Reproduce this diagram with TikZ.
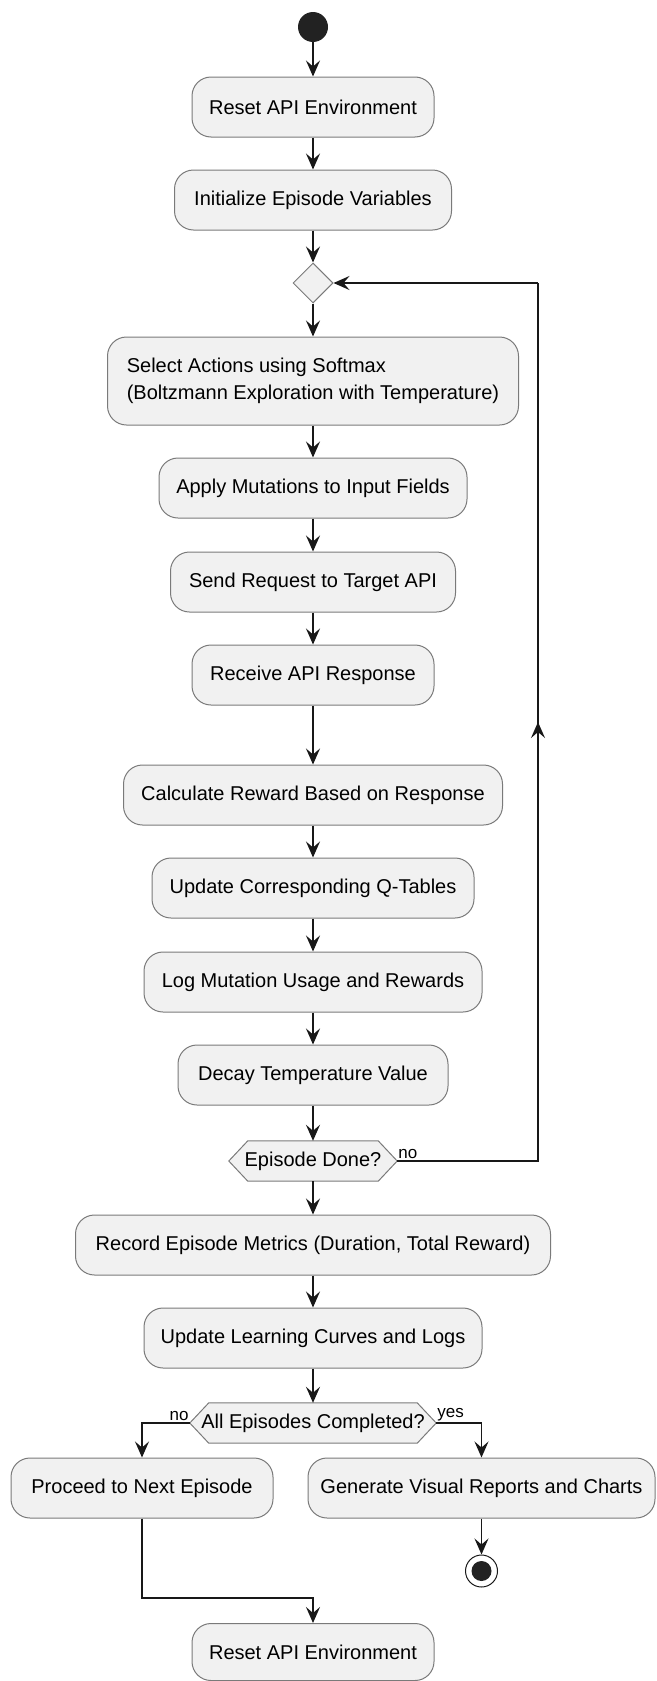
\documentclass[tikz,border=0pt]{standalone}
\usepackage{fontspec}
\setmainfont{Liberation Sans}
\usetikzlibrary{arrows.meta,calc,backgrounds,shapes.geometric}
\definecolor{boxfill}{HTML}{F1F1F1}
\definecolor{boxline}{HTML}{7A7A7A}
\definecolor{arrowc}{HTML}{181818}
\definecolor{startc}{HTML}{222222}
\begin{document}
\begin{tikzpicture}[x=1pt,y=-1pt,
  act/.style={draw=boxline, fill=boxfill, line width=1pt, rounded corners=19pt,
    minimum height=60pt, inner sep=0pt, font=\fontsize{20}{27}\selectfont, align=center},
  hexn/.style={inner sep=0pt, minimum height=40pt, font=\fontsize{20}{24}\selectfont},
  hexpath/.style={draw=boxline, fill=boxfill, line width=1pt},
  line/.style={draw=arrowc, line width=1.5pt},
  arr/.style={line, -{Stealth[length=16pt,width=14pt,inset=6pt]}},
  lbl/.style={font=\fontsize{17}{20}\selectfont, inner sep=1pt}]
\useasboundingbox (0,0) rectangle (656,1681);

% start
\node[circle, fill=startc, minimum size=30pt, inner sep=0pt] (start) at (313,27) {};

\node[act, minimum width=242pt] (reset1) at (313,107) {Reset API Environment};
\node[act, minimum width=277pt] (init) at (313,200) {Initialize Episode Variables};
\node[diamond, aspect=1, draw=boxline, fill=boxfill, line width=1pt, minimum size=40pt, inner sep=0pt] (dia) at (313,283) {};
\node[act, minimum width=411pt, minimum height=88pt, align=left] (select) at (313,381) {Select Actions using Softmax\\(Boltzmann Exploration with Temperature)};
\node[act, minimum width=308pt] (apply) at (313,488) {Apply Mutations to Input Fields};
\node[act, minimum width=285pt] (send) at (313,582) {Send Request to Target API};
\node[act, minimum width=242pt] (receive) at (313,675) {Receive API Response};
\node[act, minimum width=379pt] (calc) at (313,795) {Calculate Reward Based on Response};
\node[act, minimum width=322pt] (updq) at (313,888) {Update Corresponding Q-Tables};
\node[act, minimum width=338pt] (logm) at (313,982) {Log Mutation Usage and Rewards};
\node[act, minimum width=270pt] (decay) at (313,1075) {Decay Temperature Value};
\node[hexn, minimum width=168pt] (epdone) at (313,1161) {Episode Done?};
\node[act, minimum width=475pt] (record) at (313,1245) {Record Episode Metrics (Duration, Total Reward)};
\node[act, minimum width=338pt] (updlc) at (313,1338) {Update Learning Curves and Logs};
\node[hexn, minimum width=246pt] (alep) at (313,1423) {All Episodes Completed?};
\node[act, minimum width=262pt] (proceed) at (142,1488) {Proceed to Next Episode};
\node[act, minimum width=347pt] (gen) at (481.5,1488) {Generate Visual Reports and Charts};
\node[circle, draw=arrowc, line width=1pt, fill=white, minimum size=32pt, inner sep=0pt] (end) at (481.5,1571) {};
\fill[startc] (end.center) circle (10pt);
\node[act, minimum width=242pt, minimum height=57pt] (reset2) at (313,1652) {Reset API Environment};

\begin{scope}[on background layer]
\path[hexpath] (epdone.west) -- ($(epdone.north west)+(19,0)$) -- ($(epdone.north east)+(-19,0)$) -- (epdone.east) -- ($(epdone.south east)+(-19,0)$) -- ($(epdone.south west)+(19,0)$) -- cycle;
\path[hexpath] (alep.west) -- ($(alep.north west)+(19,0)$) -- ($(alep.north east)+(-19,0)$) -- (alep.east) -- ($(alep.south east)+(-19,0)$) -- ($(alep.south west)+(19,0)$) -- cycle;
\end{scope}

% main flow
\draw[arr] (start) -- (reset1);
\draw[arr] (reset1) -- (init);
\draw[arr] (init) -- (dia);
\draw[arr] (dia) -- (select);
\draw[arr] (select) -- (apply);
\draw[arr] (apply) -- (send);
\draw[arr] (send) -- (receive);
\draw[arr] (receive) -- (calc);
\draw[arr] (calc) -- (updq);
\draw[arr] (updq) -- (logm);
\draw[arr] (logm) -- (decay);
\draw[arr] (decay) -- (epdone);
\draw[arr] (epdone) -- (record);
\draw[arr] (record) -- (updlc);
\draw[arr] (updlc) -- (alep);

% loop back
\coordinate (loopR) at (538,1161);
\coordinate (loopT) at (538,283);
\coordinate (loopM) at (538,722);
\draw[line] (epdone.east) -- (loopR) -- (loopT);
\draw[arr] (loopT) -- (dia.east);
\draw[arr] (loopR) -- (loopM);
\node[lbl, anchor=south west] at ($(epdone.east)+(0,-1)$) {no};

% branches
\draw[arr] (alep.west) -| (proceed.north);
\draw[arr] (alep.east) -| (gen.north);
\node[lbl, anchor=south east] at ($(alep.west)+(0,-1)$) {no};
\node[lbl, anchor=south west] at ($(alep.east)+(0,-1)$) {yes};
\draw[arr] (gen) -- (end);
\coordinate (joinC) at (313,1598);
\draw[arr] (proceed.south) |- (joinC) -- (reset2.north);
\end{tikzpicture}
\end{document}
